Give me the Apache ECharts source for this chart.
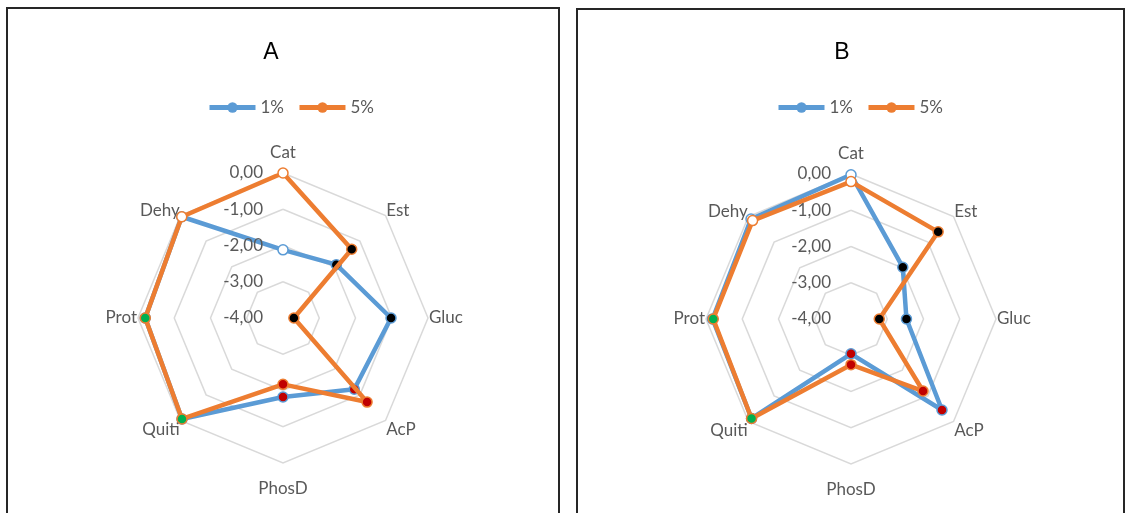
<!DOCTYPE html>
<html>
<head>
<meta charset="utf-8">
<script src="https://cdn.jsdelivr.net/npm/echarts@6/dist/echarts.min.js"></script>
<style>
  html, body { margin: 0; padding: 0; background: #ffffff; }
  #chart { width: 1126px; height: 513px; }
</style>
</head>
<body>
<div id="chart"></div>
<script>
// Enzyme activity axes, listed clockwise from the top
const categories = ['Cat', 'Est', 'Gluc', 'AcP', 'PhosD', 'Quiti', 'Prot', 'Dehy'];
const seriesNames = ['1%', '5%'];
const panelTitles = ['A', 'B'];

// Panel A
const panelA_1pct = [-2.12, -1.92, -1.02, -1.22, -1.82, -0.06, -0.20, -0.05];
const panelA_5pct = [0.00, -1.32, -3.70, -0.72, -2.17, -0.06, -0.20, -0.05];

// Panel B
const panelB_1pct = [-0.02, -1.98, -2.47, -0.45, -3.04, -0.12, -0.18, -0.10];
const panelB_5pct = [-0.21, -0.60, -3.22, -1.19, -2.74, -0.12, -0.20, -0.16];

// Scale of the radial axis
const axisMin = -4;
const axisMax = 0;
const axisStep = 1;

// ---- styling ----
const seriesColors = ['#5b9bd5', '#ed7d31'];
const markerFills = ['#ffffff', '#000000', '#000000', '#c00000', '#c00000', '#00b050', '#00b050', '#ffffff'];
const textGrey = '#595959';
const gridGrey = '#d9d9d9';
const FONT = 'Lato, "Open Sans", sans-serif';
const FONT_SIZE = 17;
const RADIUS = 145;

const panels = [
  { title: panelTitles[0], center: [283, 318], box: [7, 8, 552], titleX: 271, legendLeft: 207, values: [panelA_1pct, panelA_5pct] },
  { title: panelTitles[1], center: [851, 319], box: [577, 9, 547], titleX: 842, legendLeft: 776, values: [panelB_1pct, panelB_5pct] }
];

// radar indicators run counter-clockwise, so flip the order after the first one
const ccw = arr => [arr[0]].concat(arr.slice(1).reverse());
const fmt = v => v.toFixed(2).replace('.', ',');

// spoke-name boxes: extra line height / padding nudges a name away from the ring
const nameBoxStyle = ['top', 'up', '', 'low', 'bottom', 'low', '', 'up'];
const nameRich = {
  top:    { lineHeight: 38 },
  bottom: { lineHeight: 50 },
  up:     { padding: [0, 0, 8, 0] },
  low:    { padding: [16, 0, 0, 0] }
};
Object.keys(nameRich).forEach(key => Object.assign(nameRich[key], { color: textGrey, fontSize: FONT_SIZE, fontFamily: FONT }));

function nameFormatter(name) {
  const key = nameBoxStyle[categories.indexOf(name)];
  return key ? '{' + key + '|' + name + '}' : name;
}

function closedLoop(values, color) {
  const step = 360 / categories.length;
  const pts = values.map((v, i) => ({
    value: [v, i * step],
    itemStyle: { color: markerFills[i], borderColor: color, borderWidth: 1.5 }
  }));
  pts.push({ value: [values[0], 360], symbol: 'none' });
  return pts;
}

const option = {
  animation: false,
  backgroundColor: '#ffffff',
  graphic: [],
  radar: [],
  polar: [],
  angleAxis: [],
  radiusAxis: [],
  legend: [],
  series: []
};

panels.forEach((p, k) => {
  option.graphic.push({
    type: 'rect',
    shape: { x: p.box[0], y: p.box[1], width: p.box[2], height: 540 },
    style: { fill: 'none', stroke: '#262626', lineWidth: 2 },
    z: 0
  });
  option.graphic.push({
    type: 'text',
    x: p.titleX, y: 53,
    style: { text: p.title, align: 'center', verticalAlign: 'middle', font: '23px "Liberation Sans", Arial, sans-serif', fill: '#000000' },
    z: 10
  });

  option.radar.push({
    center: p.center,
    radius: RADIUS,
    startAngle: 90,
    splitNumber: 4,
    shape: 'polygon',
    indicator: ccw(categories).map(n => ({ name: n, min: axisMin, max: axisMax })),
    axisName: {
      color: textGrey, fontSize: FONT_SIZE, fontFamily: FONT,
      formatter: nameFormatter,
      rich: nameRich
    },
    nameGap: 1,
    axisLine: { show: false },
    axisTick: { show: false },
    axisLabel: { show: false },
    splitLine: { lineStyle: { color: gridGrey, width: 1.5 } },
    splitArea: { show: false }
  });

  option.polar.push({ center: p.center, radius: RADIUS });
  option.angleAxis.push({
    polarIndex: k, type: 'value', min: 0, max: 360, startAngle: 90, clockwise: true, show: false
  });
  option.radiusAxis.push({
    polarIndex: k, type: 'value', min: axisMin, max: axisMax, interval: axisStep,
    axisLine: { show: false }, axisTick: { show: false }, splitLine: { show: false },
    axisLabel: { color: textGrey, fontSize: FONT_SIZE, fontFamily: FONT, margin: 20, formatter: fmt },
    z: 5
  });

  option.legend.push({
    left: p.legendLeft, top: 99, padding: 0,
    itemWidth: 46, itemHeight: 13, itemGap: 13,
    lineStyle: { width: 5 },
    textStyle: { color: textGrey, fontSize: FONT_SIZE, fontFamily: FONT },
    data: seriesNames
  });

  p.values.forEach((vals, s) => {
    option.series.push({
      name: seriesNames[s],
      type: 'line',
      coordinateSystem: 'polar',
      polarIndex: k,
      symbol: 'circle',
      symbolSize: 10,
      showSymbol: true,
      clip: false,
      lineStyle: { color: seriesColors[s], width: 4.5, join: 'round' },
      itemStyle: { color: seriesColors[s] },
      data: closedLoop(vals, seriesColors[s]),
      z: 3 + s
    });
  });
});

const chart = echarts.init(document.getElementById('chart'), null, { renderer: 'canvas' });
chart.setOption(option);
</script>
</body>
</html>
